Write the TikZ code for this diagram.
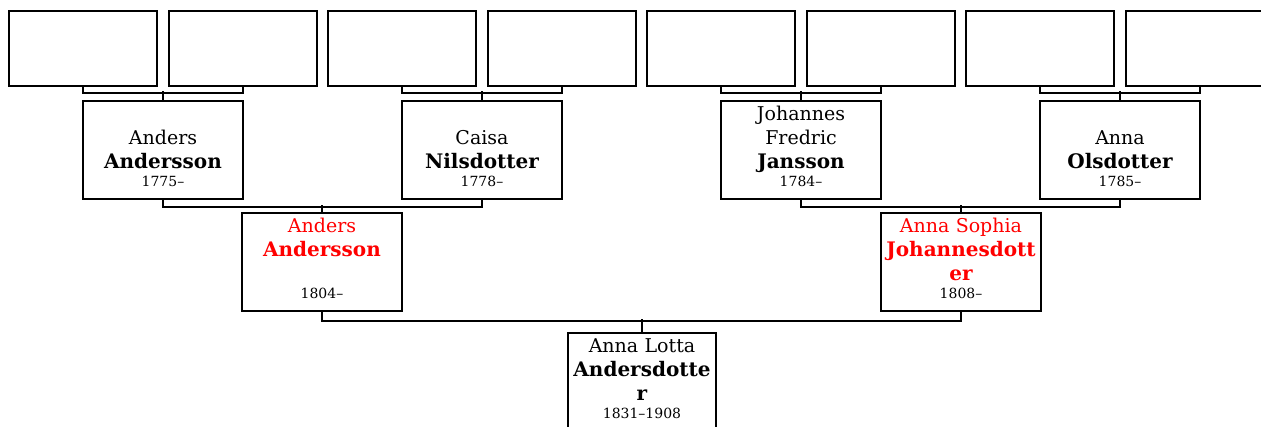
\documentclass[tikz,border=0pt]{standalone}
\usepackage{fontspec}
\setmainfont{DejaVu Serif}
\usepackage{tikz}

\newcommand\yearsfont{\fontsize{14}{18}\selectfont}
\newcommand\surname[1]{{\fontsize{20}{24}\selectfont\bfseries #1}}

\begin{document}
\begin{tikzpicture}[x=1pt,y=-1pt,line width=2pt,
	emptybox/.style={draw,anchor=north,minimum width=148pt,minimum height=75pt,inner sep=0pt},
	personbox/.style={draw,anchor=north,minimum width=160pt,text width=156pt,align=center,
		inner xsep=0pt,inner ysep=0pt,text height=19pt,text depth=79pt,
		font=\fontsize{19}{24}\selectfont},
	rootbox/.style={personbox,minimum width=148pt,text width=146pt},
	focusbox/.style={personbox,text=red}]
	\path[use as bounding box,clip] (0,0) rectangle (1261,426);

	% great-grandparents, nothing known
	\node[emptybox] (t1) at (83,10) {};
	\node[emptybox] (t2) at (243,10) {};
	\node[emptybox] (t3) at (402,10) {};
	\node[emptybox] (t4) at (562,10) {};
	\node[emptybox] (t5) at (721,10) {};
	\node[emptybox] (t6) at (881,10) {};
	\node[emptybox] (t7) at (1040,10) {};
	\node[emptybox] (t8) at (1200,10) {};

	% grandparents
	\node[personbox] (aa) at (163,100) {~\\Anders\\\surname{Andersson}\\[-6pt]{\yearsfont 1775–}};
	\node[personbox] (cn) at (482,100) {~\\Caisa\\\surname{Nilsdotter}\\[-6pt]{\yearsfont 1778–}};
	\node[personbox] (jfj) at (801,100) {Johannes\\Fredric\\\surname{Jansson}\\[-6pt]{\yearsfont 1784–}};
	\node[personbox] (ao) at (1120,100) {~\\Anna\\\surname{Olsdotter}\\[-6pt]{\yearsfont 1785–}};

	% parents
	\node[focusbox] (father) at (322,212) {Anders\\\surname{Andersson}\\~\\[-6pt]{\color{black}\yearsfont 1804–}};
	\node[focusbox] (mother) at (961,212) {Anna Sophia\\\surname{Johannesdott}\\\surname{er}\\[-6pt]{\color{black}\yearsfont 1808–}};

	\node[rootbox] (anna) at (642,332) {Anna Lotta\\\surname{Andersdotte}\\\surname{r}\\[-6pt]{\yearsfont 1831–1908}};

	\draw (t1.south) -- ++(0,6) -| (t2.south);
	\draw (t3.south) -- ++(0,6) -| (t4.south);
	\draw (t5.south) -- ++(0,6) -| (t6.south);
	\draw (t7.south) -- ++(0,6) -| (t8.south);
	\draw (aa.north) -- ++(0,-9);
	\draw (cn.north) -- ++(0,-9);
	\draw (jfj.north) -- ++(0,-9);
	\draw (ao.north) -- ++(0,-9);

	\draw (aa.south) -- ++(0,7) -| (cn.south);
	\draw (jfj.south) -- ++(0,7) -| (ao.south);
	\draw (father.north) -- ++(0,-7);
	\draw (mother.north) -- ++(0,-7);

	\draw (father.south) -- ++(0,9) -| (mother.south);
	\draw (anna.north) -- ++(0,-13);
\end{tikzpicture}
\end{document}
